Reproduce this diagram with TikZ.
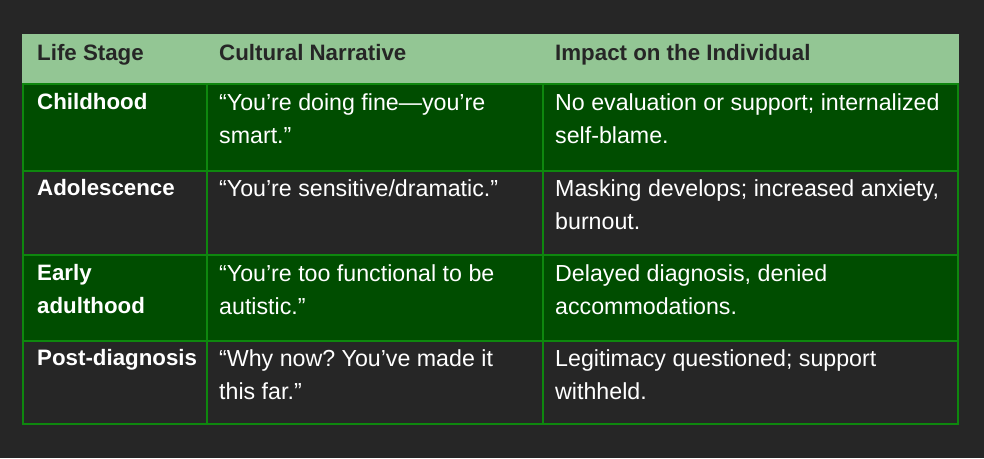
\documentclass[tikz,border=0pt]{standalone}
\usepackage{fontspec}
\setmainfont{Liberation Sans}
\usepackage{xcolor}
\definecolor{bgdark}{HTML}{262626}
\definecolor{headgreen}{HTML}{93C694}
\definecolor{rowgreen}{HTML}{004D00}
\definecolor{rulegreen}{HTML}{0E870E}
\frenchspacing

\begin{document}
\begin{tikzpicture}[x=1pt,y=-1pt,
    cell/.style={anchor=north west, inner sep=0pt, align=left, text=white,
                 font=\fontsize{23.2}{33}\selectfont},
    stage/.style={cell, font=\fontsize{22.3}{33}\selectfont\bfseries},
    head/.style={stage, text=bgdark}]
                \fill[bgdark] (0,0) rectangle (984,458);
                \useasboundingbox (0,0) rectangle (984,458);
                % row fills
                \fill[headgreen] (22,34) rectangle (959,84);
                \fill[rowgreen] (22,84) rectangle (959,170);
                \fill[rowgreen] (22,255) rectangle (959,341);
                % grid
                \draw[rulegreen, line width=2pt] (23,84) rectangle (958,424);
                \draw[rulegreen, line width=2pt] (23,171) -- (958,171);
                \draw[rulegreen, line width=2pt] (23,255) -- (958,255);
                \draw[rulegreen, line width=2pt] (23,341) -- (958,341);
                \draw[rulegreen, line width=2pt] (207,84) -- (207,424);
                \draw[rulegreen, line width=2pt] (543,84) -- (543,424);
                % header
                \node[head] (hstage) at (37,44) {Life Stage};
                \node[head] (hnarr) at (219,44) {Cultural Narrative};
                \node[head] (himpact) at (555,44) {Impact on the Individual};
                % childhood
                \node[stage] (child) at (37,93) {Childhood};
                \node[cell] (childnarr) at (219,93) {“You’re doing fine—you’re\\smart.”};
                \node[cell] (childimpact) at (555,93) {No evaluation or support; internalized\\self-blame.};
                % adolescence
                \node[stage] (adol) at (37,179) {Adolescence};
                \node[cell] (adolnarr) at (219,179) {“You’re sensitive/dramatic.”};
                \node[cell] (adolimpact) at (555,179) {Masking develops; increased anxiety,\\burnout.};
                % early adulthood
                \node[stage] (adult) at (37,264) {Early\\adulthood};
                \node[cell] (adultnarr) at (219,264) {“You’re too functional to be\\autistic.”};
                \node[cell] (adultimpact) at (555,264) {Delayed diagnosis, denied\\accommodations.};
                % post-diagnosis
                \node[stage] (post) at (37,349) {Post-diagnosis};
                \node[cell] (postnarr) at (219,349) {“Why now? You’ve made it\\this far.”};
                \node[cell] (postimpact) at (555,349) {Legitimacy questioned; support\\withheld.};
            \end{tikzpicture}
\end{document}
